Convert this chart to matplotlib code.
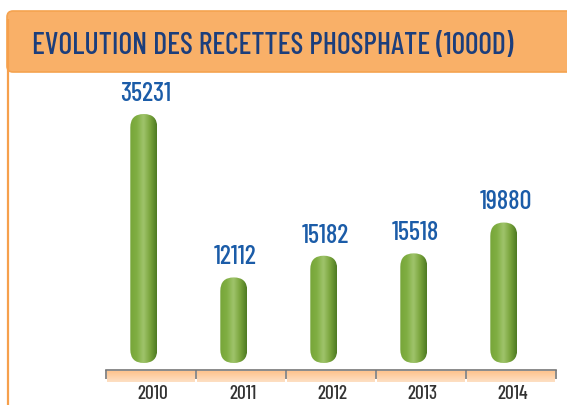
import numpy as np
import matplotlib
matplotlib.use("Agg")
import matplotlib.pyplot as plt
from matplotlib.patches import FancyBboxPatch
from matplotlib.colors import LinearSegmentedColormap

years = ["2010", "2011", "2012", "2013", "2014"]
recettes = [35231, 12112, 15182, 15518, 19880]
title = "EVOLUTION DES RECETTES PHOSPHATE (1000D)"

W, H = 567, 406
FONT = ["Barlow Condensed", "DejaVu Sans"]

fig = plt.figure(figsize=(W / 100, H / 100), dpi=100)

# background layer in pixel coords for the decoration
bg = fig.add_axes([0, 0, 1, 1])
bg.set_xlim(0, W)
bg.set_ylim(H, 0)
bg.axis("off")
bg.plot([7.5, 7.5], [20, H], color="#f6a04c", lw=1.6, solid_capstyle="butt")
head = FancyBboxPatch((7, 12), 620, 61, boxstyle="round,pad=0,rounding_size=6",
                      fc="#f9b068", ec="#f5a34f", lw=1.2)
bg.add_patch(head)
bg.text(273, 46, title, ha="center", va="center", fontsize=21.5, weight=500,
        color="#1c3e7c", family=FONT)


def px_axes(left, top, right, bottom):
    return fig.add_axes([left / W, 1 - bottom / H, (right - left) / W, (bottom - top) / H])


# main chart axes: x from 106 to 556 px, bottom at 371 px
ax = px_axes(106, 60, 556, 371)
ax.patch.set_alpha(0)
x = np.arange(len(years))
ax.set_xlim(-0.5, len(years) - 0.5)
px_per_unit = 249 / recettes[0]
ymin = -7 / px_per_unit
ax.set_ylim(ymin, ymin + 311 / px_per_unit)

for s in ["top", "right", "left"]:
    ax.spines[s].set_visible(False)
ax.spines["bottom"].set_color("#777777")
ax.spines["bottom"].set_linewidth(1.2)
ax.set_yticks([])
ax.set_xticks(np.arange(len(years) + 1) - 0.5)
ax.set_xticklabels([])
ax.tick_params(axis="x", direction="out", length=6.5, width=1.2, color="#777777")

# pill-shaped bars with horizontal gradient
green = LinearSegmentedColormap.from_list(
    "g", ["#77a63a", "#80ae42", "#a0c46c", "#7aa53d", "#4e7a22"])
grad = np.linspace(0, 1, 64).reshape(1, -1)
bw = 0.3
shift = -0.08
bbox = ax.get_position()
ux = len(years) / (bbox.width * W)            # x units per px
uy = (ax.get_ylim()[1] - ax.get_ylim()[0]) / (bbox.height * H)
aspect = uy / ux
for xi, v in zip(x, recettes):
    x0 = xi + shift - bw / 2
    pill = FancyBboxPatch((x0, 0), bw, v,
                          boxstyle="round,pad=0,rounding_size=%f" % (bw / 2),
                          mutation_aspect=aspect, fc="none", ec="none")
    ax.add_patch(pill)
    im = ax.imshow(grad, cmap=green, aspect="auto", extent=(x0, x0 + bw, 0, v),
                   interpolation="bicubic", zorder=2)
    im.set_clip_path(pill)
    ax.text(xi + shift + 0.02, v + 9 * uy, f"{v}", ha="center", va="bottom",
            fontsize=19, weight=500, color="#1b5ca8", family=FONT)

# peach category strips under the axis
strip = px_axes(106, 372, 556, 383)
strip.set_xlim(-0.5, len(years) - 0.5)
strip.set_ylim(1, 0)
strip.axis("off")
peach = LinearSegmentedColormap.from_list("p", ["#fdc38e", "#fee0c4"])
vgrad = np.linspace(0, 1, 32).reshape(-1, 1)
for xi in x:
    strip.imshow(vgrad, cmap=peach, aspect="auto",
                 extent=(xi - 0.485, xi + 0.485, 1, 0), interpolation="bicubic")

for xi, yr in zip(x, years):
    ax.text(xi + 0.02, -0.075, yr, transform=ax.get_xaxis_transform(), ha="center",
            va="center", fontsize=14, weight=500, color="#333333", family=FONT)

fig.savefig("out.png", dpi=100)
